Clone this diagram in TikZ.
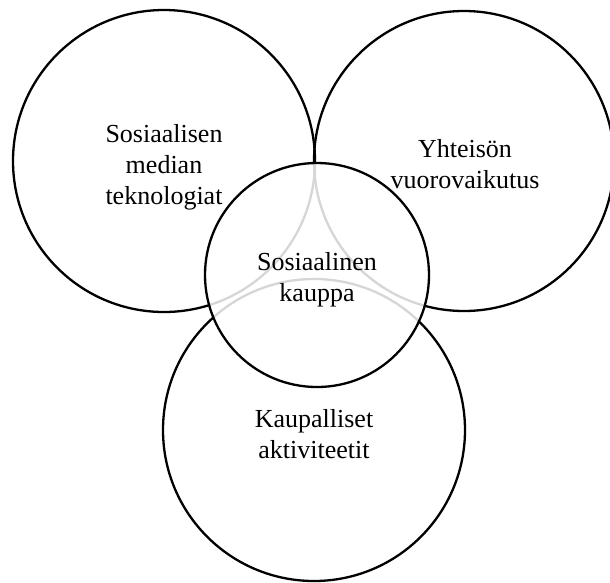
\documentclass[tikz,border=0pt]{standalone}
\usepackage{fontspec}
\setmainfont{Liberation Serif}
\usetikzlibrary{positioning}

\begin{document}
\begin{tikzpicture}[
  x=1pt, y=-1pt,
  sphere/.style={
    draw=black,
    shape=circle,
    line width=2.3pt,
    inner sep=0pt,
  },
  big/.style={
    minimum size=302pt,
  },
  core/.style={
    minimum size=224pt,
    fill=white,
    fill opacity=0.84,
  },
  caption/.style={
    align=center,
    inner sep=0pt,
    font=\fontsize{26}{31}\selectfont,
  }]
  \useasboundingbox (0,0) rectangle (610,582);
  \node[sphere, big] (TECH) at (164,161) {};
  \node[sphere, big, minimum size=300pt] (COMM) at (464,161) {};
  \node[sphere, big] (TRADE) at (314,430) {};
  % the overlap drawn last, so the big circles show through faintly
  \node[sphere, core] (SOCIAL) at (317,275) {};
  \node[caption] (TECHtxt) at (164,167) {Sosiaalisen\\median\\teknologiat};
  \node[caption] (COMMtxt) at (465,164) {Yhteisön\\vuorovaikutus};
  \node[caption] (TRADEtxt) at (314,434) {Kaupalliset\\aktiviteetit};
  \node[caption] (SOCIALtxt) at (317,280) {Sosiaalinen\\kauppa};
\end{tikzpicture}
\end{document}
